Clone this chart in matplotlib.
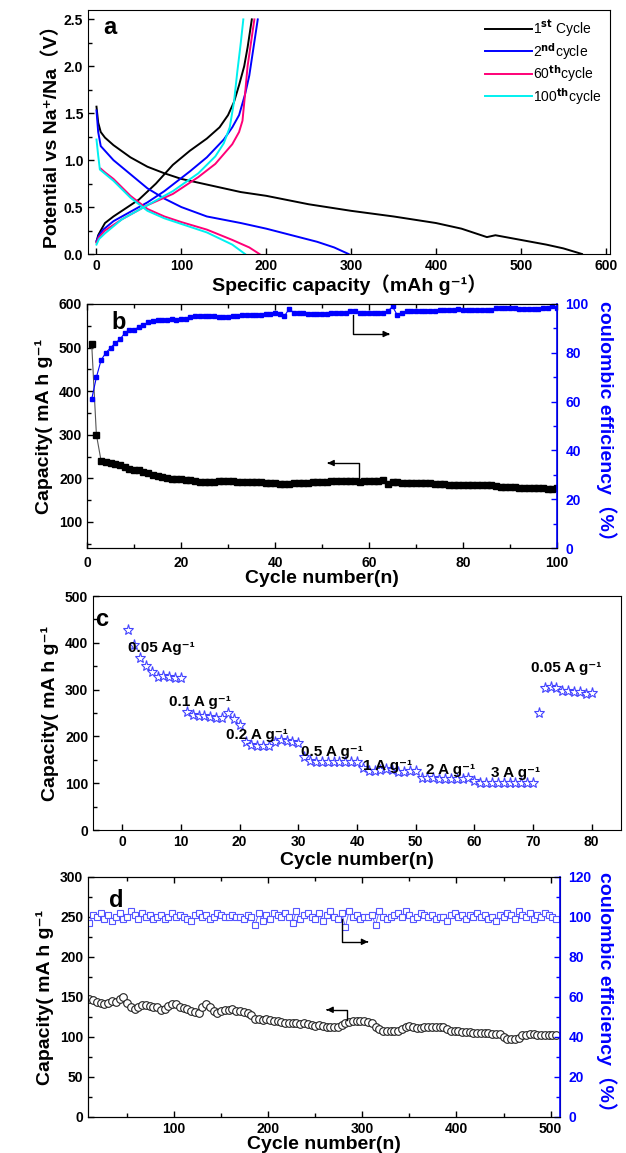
import numpy as np
import matplotlib.pyplot as plt
from matplotlib.ticker import MultipleLocator

plt.rcParams['font.family'] = ['Liberation Sans', 'Noto Sans CJK SC', 'DejaVu Sans']
plt.rcParams['font.weight'] = 'bold'
plt.rcParams['xtick.direction'] = 'in'
plt.rcParams['ytick.direction'] = 'in'

# ---- panel a: charge / discharge profiles (capacity mAh/g, potential V)
c1_dis = [0, 2, 5, 10, 20, 40, 60, 80, 100, 150, 170, 200, 250, 300, 350, 400, 430, 460, 470, 500, 530, 550, 572]
v1_dis = [1.57, 1.40, 1.30, 1.24, 1.16, 1.03, 0.93, 0.86, 0.80, 0.70, 0.66, 0.62, 0.53, 0.46, 0.40, 0.33, 0.27, 0.18, 0.20, 0.15, 0.10, 0.06, 0.0]
c1_chg = [0, 2, 5, 10, 20, 30, 50, 70, 90, 110, 130, 145, 155, 162, 168, 174, 178, 181, 183]
v1_chg = [0.13, 0.20, 0.25, 0.33, 0.40, 0.46, 0.58, 0.75, 0.95, 1.10, 1.23, 1.35, 1.48, 1.62, 1.80, 2.00, 2.20, 2.38, 2.5]
c2_dis = [0, 2, 5, 10, 20, 40, 60, 80, 100, 130, 170, 200, 230, 260, 280, 297]
v2_dis = [1.53, 1.30, 1.15, 1.10, 1.00, 0.85, 0.70, 0.59, 0.50, 0.40, 0.33, 0.27, 0.20, 0.13, 0.07, 0.0]
c2_chg = [0, 3, 8, 20, 40, 60, 80, 110, 130, 150, 160, 168, 175, 180, 185, 190]
v2_chg = [0.14, 0.20, 0.26, 0.35, 0.45, 0.55, 0.67, 0.88, 1.03, 1.22, 1.35, 1.48, 1.70, 1.90, 2.20, 2.5]
c60_dis = [5, 10, 20, 40, 60, 80, 100, 130, 160, 180, 192]
v60_dis = [0.91, 0.87, 0.80, 0.62, 0.48, 0.40, 0.34, 0.26, 0.15, 0.07, 0.0]
c60_chg = [0, 3, 10, 30, 60, 90, 120, 140, 160, 168, 172, 175, 178, 182, 186]
v60_chg = [0.12, 0.18, 0.25, 0.37, 0.52, 0.64, 0.82, 0.96, 1.17, 1.30, 1.42, 1.70, 2.00, 2.25, 2.5]
c100_dis = [0, 2, 4, 20, 40, 60, 80, 100, 130, 160, 175]
v100_dis = [1.22, 1.05, 0.90, 0.78, 0.60, 0.46, 0.38, 0.32, 0.23, 0.10, 0.0]
c100_chg = [0, 3, 10, 30, 60, 90, 120, 140, 150, 157, 162, 166, 170, 173]
v100_chg = [0.10, 0.16, 0.22, 0.37, 0.52, 0.67, 0.86, 1.04, 1.18, 1.35, 1.62, 1.95, 2.25, 2.5]

# ---- panel b: cycling at constant current (100 cycles)
cap_b = [508, 300, 240, 237, 235, 232, 230, 225, 222, 220,
         218, 215, 212, 208, 205, 203, 200, 199, 198, 198,
         197, 195, 193, 192, 191, 191, 192, 193, 193, 193,
         193, 192, 192, 191, 191, 191, 191, 190, 190, 190,
         186, 188, 188, 189, 189, 190, 190, 191, 191, 192,
         192, 193, 193, 193, 193, 193, 193, 192, 193, 193,
         194, 194, 195, 186, 191, 191, 190, 190, 190, 190,
         189, 189, 189, 188, 187, 186, 185, 185, 184, 184,
         184, 184, 184, 185, 185, 184, 182, 180, 180, 179,
         179, 178, 178, 178, 178, 177, 177, 176, 176, 177]
ce_b = [61, 70, 77, 80, 82, 84, 85.5, 88, 89.5, 89.5,
        90.5, 91.5, 92.5, 93, 93.5, 93.5, 93.5, 94, 93.5, 94,
        94, 94.5, 95, 95, 95, 95, 95, 94.5, 94.5, 94.5,
        95, 95, 95.5, 95.5, 95.5, 95.5, 95.5, 96, 96, 96.5,
        96, 95, 98, 96.5, 96.5, 96.5, 96, 96, 96, 96,
        96, 96.5, 96.5, 96.5, 96.5, 97, 97, 96.5, 96.5, 96.5,
        96.5, 96.5, 96.5, 97, 99, 95.5, 96.5, 97, 97, 97,
        97, 97, 97, 97, 97.5, 97.5, 97.5, 97.5, 98, 97.5,
        97.5, 97.5, 97.5, 97.5, 97.5, 97.5, 98.5, 98.5, 98.5, 98.5,
        98.5, 98, 98, 98, 98, 98, 98.5, 98.5, 99, 98.5]
cyc_b = np.arange(1, len(cap_b) + 1)

# ---- panel c: rate capability
cap_c = [428, 395, 368, 350, 337, 327, 328, 327, 325, 325,
         252, 245, 243, 243, 241, 240, 240, 250, 238, 225,
         187, 182, 180, 180, 180, 188, 192, 190, 188, 185,
         155, 147, 146, 146, 146, 146, 146, 146, 146, 146,
         132, 127, 127, 128, 130, 128, 125, 125, 126, 126,
         112, 111, 111, 110, 109, 108, 108, 109, 111, 105,
         101, 101, 101, 101, 101, 101, 101, 101, 101, 101,
         250, 304, 306, 303, 298, 296, 295, 294, 290, 292]
cyc_c = np.arange(1, len(cap_c) + 1)
rate_labels = ['0.05 Ag⁻¹', '0.1 A g⁻¹', '0.2 A g⁻¹', '0.5 A g⁻¹', '1 A g⁻¹', '2 A g⁻¹', '3 A g⁻¹', '0.05 A g⁻¹']

# ---- panel d: long cycling (every 4th cycle from cycle 10)
cap_d = [148, 146, 144, 142, 141, 143, 145, 144, 147, 150,
         142, 137, 135, 138, 140, 140, 139, 138, 137, 134,
         135, 139, 141, 141, 138, 136, 135, 133, 131, 130,
         138, 141, 137, 132, 130, 133, 134, 134, 135, 133,
         132, 131, 130, 127, 123, 122, 121, 122, 121, 120,
         120, 119, 118, 118, 117, 117, 116, 118, 116, 115,
         114, 115, 114, 113, 112, 113, 112, 115, 118, 119,
         120, 120, 120, 120, 119, 117, 112, 110, 108, 108,
         107, 107, 108, 110, 112, 114, 112, 111, 111, 112,
         113, 113, 113, 112, 112, 110, 108, 107, 107, 106,
         106, 106, 105, 105, 105, 105, 105, 104, 104, 104,
         100, 98, 97, 97, 99, 102, 103, 104, 104, 103,
         103, 103, 102, 103, 102]
ce_d = [97, 101, 100, 102, 99, 101, 98, 100, 102, 99,
        100, 103, 101, 99, 102, 100, 101, 99, 100, 101,
        99, 100, 102, 100, 101, 100, 99, 98, 101, 102,
        100, 101, 99, 100, 102, 101, 100, 100, 101, 100,
        100, 99, 101, 100, 96, 102, 98, 101, 99, 102,
        101, 100, 102, 100, 97, 103, 99, 101, 102, 100,
        99, 102, 98, 101, 103, 100, 99, 102, 95, 103,
        100, 101, 99, 100, 100, 101, 96, 103, 100, 99,
        100, 101, 102, 100, 103, 101, 99, 100, 102, 101,
        100, 101, 99, 100, 100, 98, 101, 102, 100, 101,
        99, 101, 100, 102, 100, 101, 99, 100, 98, 101,
        100, 102, 101, 99, 103, 101, 100, 102, 99, 101,
        100, 102, 101, 100, 99]
cyc_d = np.arange(10, 10 + 4 * len(cap_d), 4)

W, H = 626, 1153
fig = plt.figure(figsize=(W / 100, H / 100), dpi=100)

def box(l, r, t, b):
    return [l / W, 1 - b / H, (r - l) / W, (b - t) / H]

tick_kw = dict(labelsize=10, width=1, length=4)
lab_kw = dict(fontsize=14, fontweight='bold')
blue = '#0000ff'

# ---------------- a
ax = fig.add_axes(box(88, 610, 10, 254))
ax.plot(c1_dis, v1_dis, color='black', lw=1.4, label='1$^{\\mathrm{st}}$ Cycle')
ax.plot(c1_chg, v1_chg, color='black', lw=1.4)
ax.plot(c2_dis, v2_dis, color=blue, lw=1.4, label='2$^{\\mathrm{nd}}$cycle')
ax.plot(c2_chg, v2_chg, color=blue, lw=1.4)
ax.plot(c60_dis, v60_dis, color='#ff0077', lw=1.4, label='60$^{\\mathrm{th}}$cycle')
ax.plot(c60_chg, v60_chg, color='#ff0077', lw=1.4)
ax.plot(c100_dis, v100_dis, color='#00f0f0', lw=1.4, label='100$^{\\mathrm{th}}$cycle')
ax.plot(c100_chg, v100_chg, color='#00f0f0', lw=1.4)
ax.set_xlim(-10, 605)
ax.set_ylim(0, 2.6)
ax.xaxis.set_major_locator(MultipleLocator(100))
ax.yaxis.set_major_locator(MultipleLocator(0.5))
ax.yaxis.set_minor_locator(MultipleLocator(0.25))
ax.tick_params(which='both', **tick_kw)
ax.tick_params(which='minor', length=3)
ax.set_xlabel('Specific capacity（mAh g⁻¹）', labelpad=1, **lab_kw)
ax.set_ylabel('Potential vs Na⁺/Na（V）', labelpad=2, **lab_kw)
ax.text(0.03, 0.93, 'a', transform=ax.transAxes, fontsize=17, fontweight='bold', va='center')
leg = ax.legend(loc='upper right', frameon=False, handlelength=3.4,
                handletextpad=0.1, labelspacing=0.12, borderaxespad=0.2,
                prop={'weight': 'normal', 'size': 10})

# ---------------- b
ax = fig.add_axes(box(87, 557, 304, 548))
ax.plot(cyc_b, cap_b, color='#555555', lw=0.8, marker='s', ms=4, mfc='black', mec='black')
ax.set_xlim(0, 100)
ax.set_ylim(40, 600)
ax.xaxis.set_major_locator(MultipleLocator(20))
ax.xaxis.set_minor_locator(MultipleLocator(10))
ax.yaxis.set_major_locator(MultipleLocator(100))
ax.yaxis.set_minor_locator(MultipleLocator(50))
ax.tick_params(which='both', top=True, **tick_kw)
ax.tick_params(which='minor', length=3)
ax.tick_params(axis='x', pad=6)
ax.set_xlabel('Cycle number(n)', labelpad=0, **lab_kw)
ax.set_ylabel('Capacity( mA h g⁻¹', labelpad=4, **lab_kw)
ax.text(0.053, 0.926, 'b', transform=ax.transAxes, fontsize=17, fontweight='bold', va='center')
ax.plot([57.9, 57.9, 51.5], [191, 235, 235], color='black', lw=1)
ax.annotate('', xy=(50.6, 235), xytext=(52, 235),
            arrowprops=dict(arrowstyle='-|>', color='black', lw=1, mutation_scale=9))
ax2 = ax.twinx()
ax2.plot(cyc_b, ce_b, color=blue, lw=0.8, marker='s', ms=3.5, mfc=blue, mec=blue)
ax2.set_ylim(0, 100)
ax2.yaxis.set_major_locator(MultipleLocator(20))
ax2.yaxis.set_minor_locator(MultipleLocator(10))
ax2.tick_params(which='both', colors=blue, pad=6, **tick_kw)
ax2.tick_params(which='minor', length=3)
ax2.spines['right'].set_color(blue)
ax2.spines['right'].set_linewidth(1.2)
ax2.set_ylabel('coulombic efficiency（%）', color=blue, rotation=270, labelpad=20, **lab_kw)
ax2.plot([56.6, 56.6, 64], [95.5, 87.7, 87.7], color='black', lw=1)
ax2.annotate('', xy=(65, 87.7), xytext=(63.5, 87.7),
             arrowprops=dict(arrowstyle='-|>', color='black', lw=1, mutation_scale=9))

# ---------------- c
ax = fig.add_axes(box(93, 621, 596, 830))
ax.plot(cyc_c, cap_c, ls='none', marker='*', ms=8, mfc='white', mec='#4444ff', mew=0.8)
ax.set_xlim(-5, 85)
ax.set_ylim(0, 500)
ax.xaxis.set_major_locator(MultipleLocator(10))
ax.yaxis.set_major_locator(MultipleLocator(100))
ax.yaxis.set_minor_locator(MultipleLocator(50))
ax.tick_params(which='both', **tick_kw)
ax.tick_params(which='minor', length=3)
ax.set_xlabel('Cycle number(n)', labelpad=2, **lab_kw)
ax.set_ylabel('Capacity( mA h g⁻¹', labelpad=4, **lab_kw)
ax.text(0.004, 0.90, 'c', transform=ax.transAxes, fontsize=17, fontweight='bold', va='center')
label_pos = [(0.9, 389), (7.9, 273), (17.6, 203), (30.4, 167), (41.1, 137), (51.7, 128), (62.8, 122), (69.6, 346)]
for (lx, ly), s in zip(label_pos, rate_labels):
    ax.text(lx, ly, s, fontsize=11, fontweight='bold', va='center')

# ---------------- d
ax = fig.add_axes(box(88, 560, 877, 1117))
ax.plot(cyc_d, cap_d, color='#333333', lw=0.8, ls='-', marker='o', ms=5.5, mfc='white', mec='#222222', mew=0.8)
ax.set_xlim(8.5, 510)
ax.set_ylim(0, 300)
ax.xaxis.set_major_locator(MultipleLocator(100))
ax.xaxis.set_minor_locator(MultipleLocator(50))
ax.yaxis.set_major_locator(MultipleLocator(50))
ax.yaxis.set_minor_locator(MultipleLocator(25))
ax.tick_params(which='both', top=True, **tick_kw)
ax.tick_params(which='minor', length=3)
ax.set_xlabel('Cycle number(n)', labelpad=0, **lab_kw)
ax.set_ylabel('Capacity( mA h g⁻¹', labelpad=4, **lab_kw)
ax.text(0.045, 0.904, 'd', transform=ax.transAxes, fontsize=17, fontweight='bold', va='center')
ax.plot([284, 284, 266], [121, 134, 134], color='black', lw=1)
ax.annotate('', xy=(262, 134), xytext=(266, 134),
            arrowprops=dict(arrowstyle='-|>', color='black', lw=1, mutation_scale=9))
ax2 = ax.twinx()
ax2.plot(cyc_d, ce_d, color='#5555ff', lw=0.6, marker='s', ms=4.5, mfc='white', mec='#5555ff', mew=0.8)
ax2.set_ylim(0, 120)
ax2.yaxis.set_major_locator(MultipleLocator(20))
ax2.yaxis.set_minor_locator(MultipleLocator(10))
ax2.tick_params(which='both', colors=blue, pad=6, **tick_kw)
ax2.tick_params(which='minor', length=3)
ax2.spines['right'].set_color(blue)
ax2.spines['right'].set_linewidth(1.2)
ax2.set_ylabel('coulombic efficiency（%）', color=blue, rotation=270, labelpad=18, **lab_kw)
ax2.plot([278.5, 278.5, 302], [99, 87.6, 87.6], color='black', lw=1)
ax2.annotate('', xy=(306, 87.6), xytext=(302, 87.6),
             arrowprops=dict(arrowstyle='-|>', color='black', lw=1, mutation_scale=9))

fig.savefig('out.png', dpi=100)
